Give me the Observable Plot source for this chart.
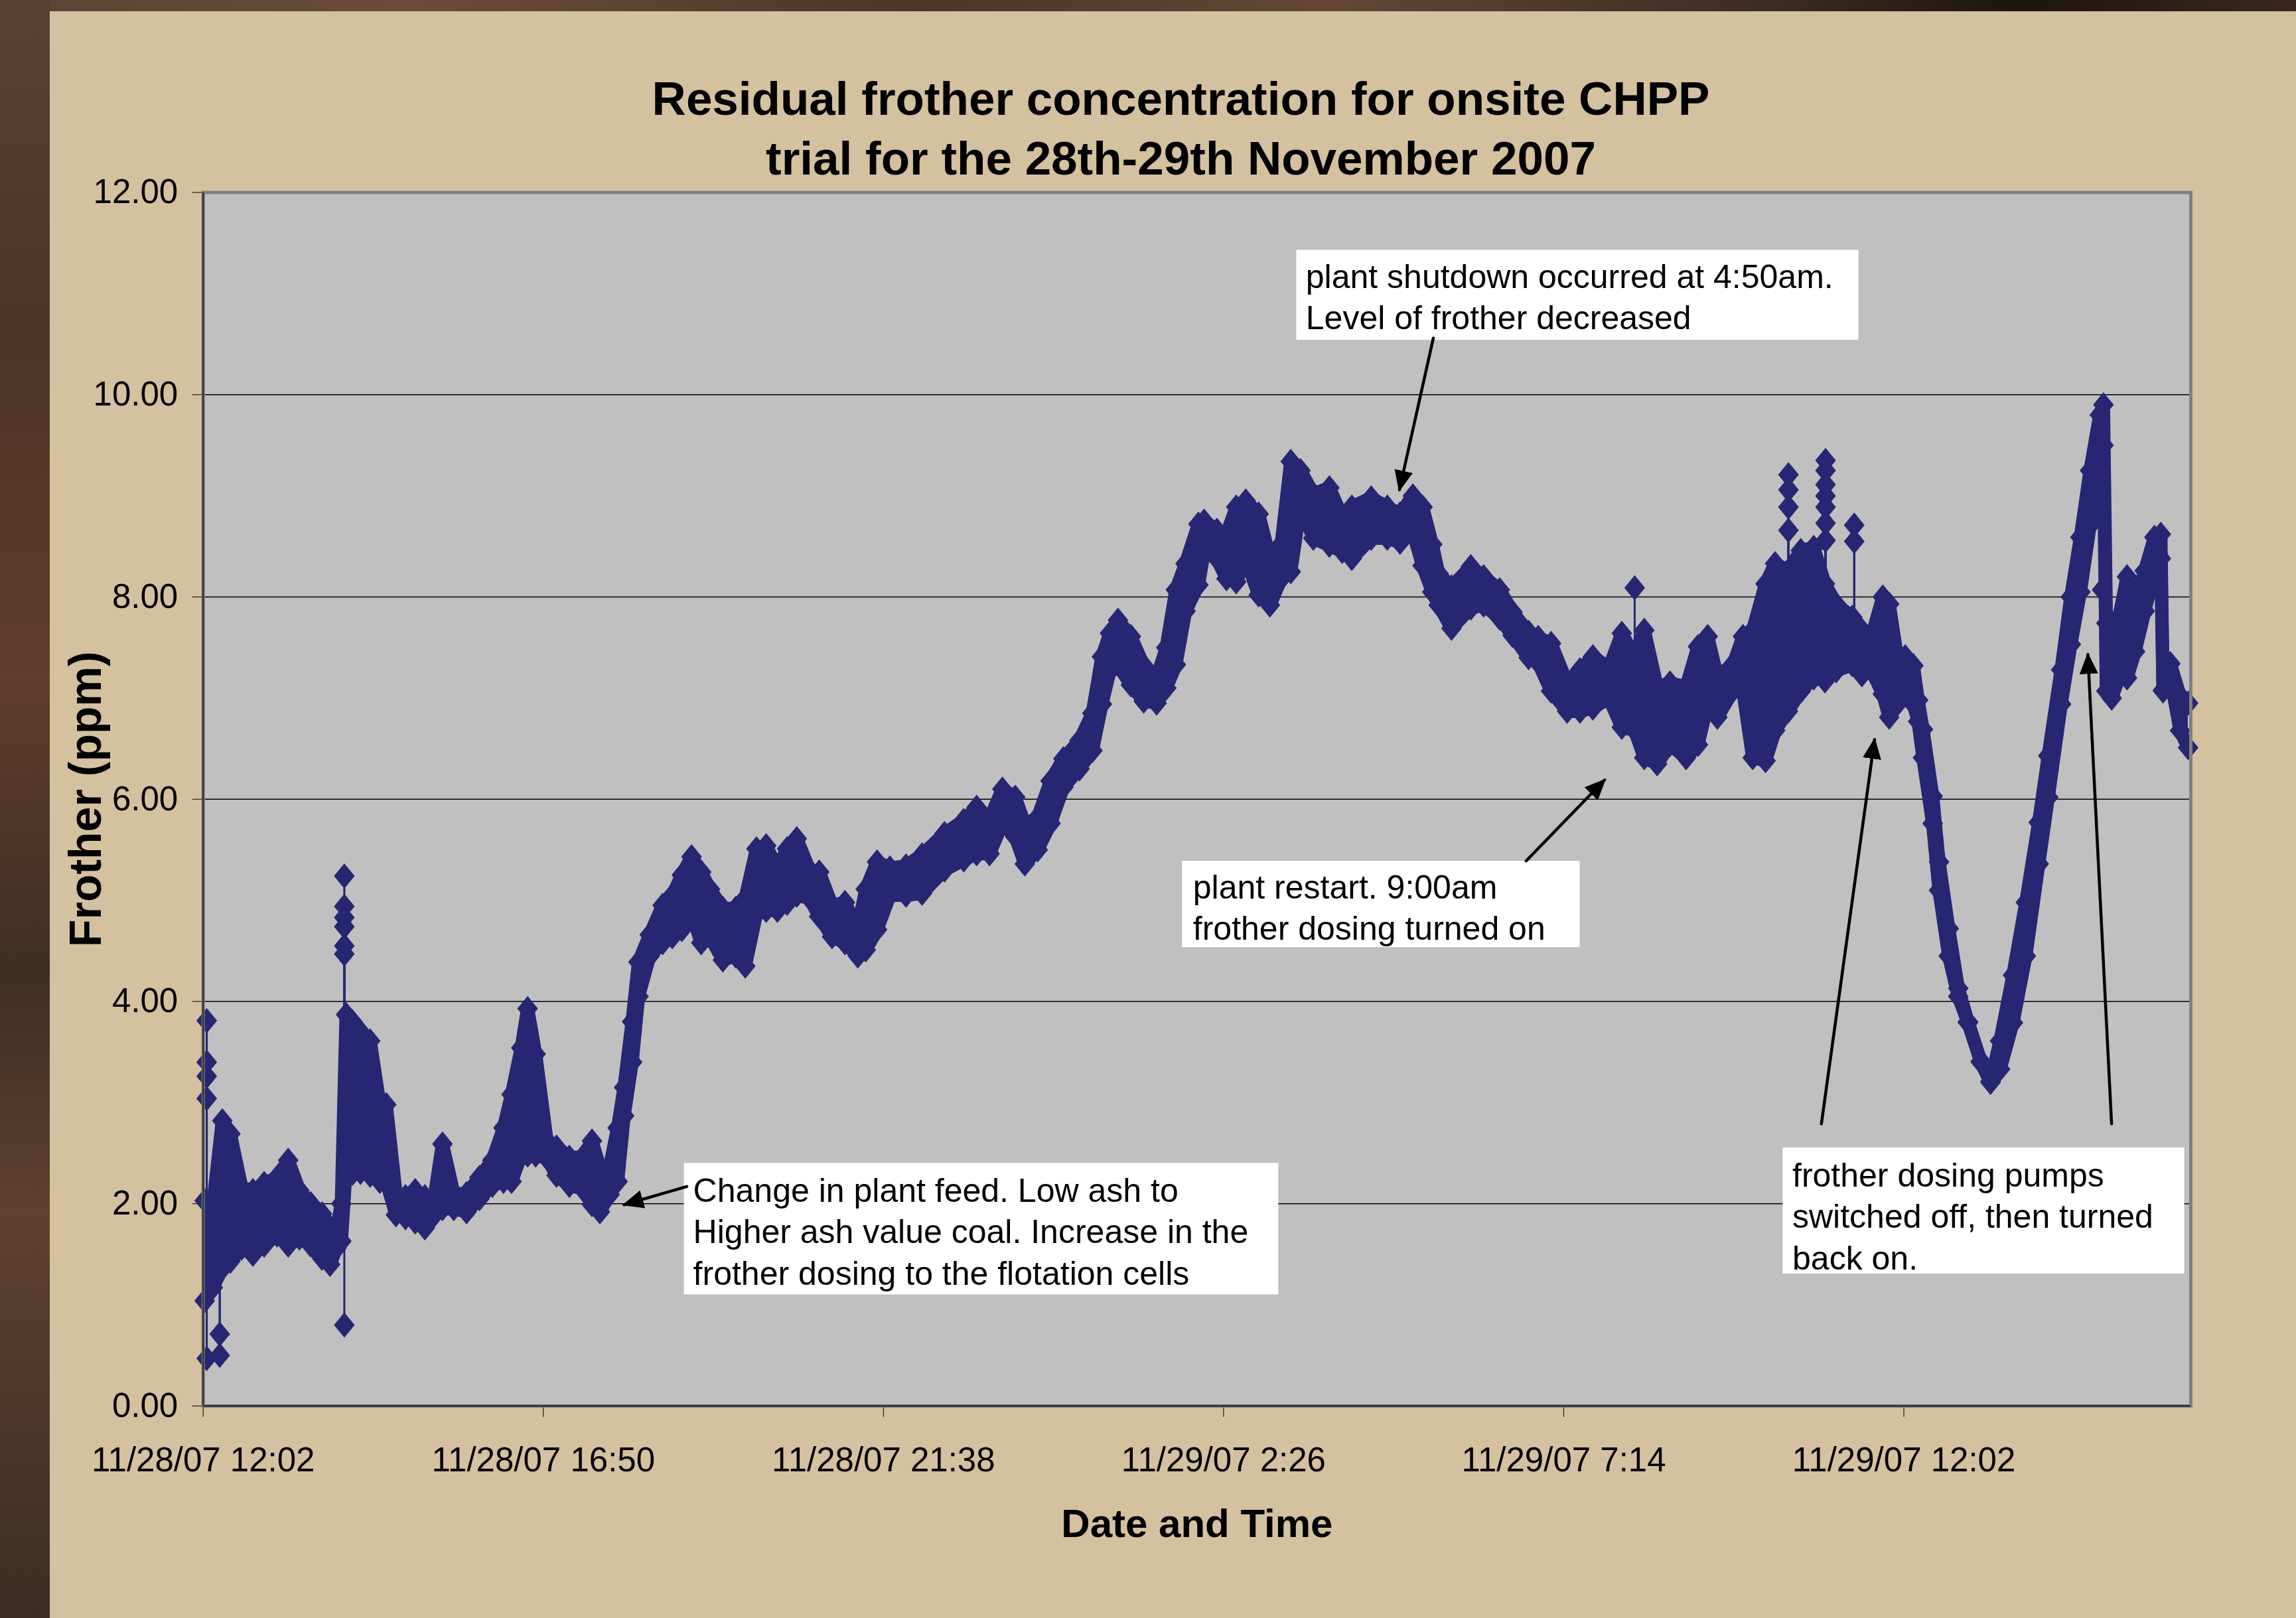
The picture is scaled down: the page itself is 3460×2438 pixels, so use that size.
<!DOCTYPE html>
<html>
<head>
<meta charset="utf-8">
<script src="https://cdn.jsdelivr.net/npm/d3@7"></script>
<script src="https://cdn.jsdelivr.net/npm/@observablehq/plot@0.6"></script>
<style>
html, body { margin: 0; padding: 0; }
body {
  width: 3460px; height: 2438px; overflow: hidden; position: relative;
  background: linear-gradient(90deg, #5b4333 0%, #6a4c3a 18%, #4e3527 40%, #634636 58%, #3a2a20 78%, #1e1410 88%, #3a281e 100%);
}
#wood-left {
  position: absolute; left: 0; top: 0; width: 75px; height: 2438px;
  background: linear-gradient(180deg, #5a4233 0%, #4d3426 20%, #5e3e2c 42%, #3f2d23 60%, #5e4130 75%, #3c2c23 100%);
}
#chart {
  position: absolute; left: 75px; top: 17px; width: 3385px; height: 2421px;
  background: #D4C1A0;
}
#title {
  position: absolute; left: 12px; top: 87px; width: 3385px; text-align: center;
  font: bold 71px/90px 'Liberation Sans', Arial, sans-serif; color: #000;
}
#plot { position: absolute; left: 0; top: 200px; }
</style>
</head>
<body>
<div id="wood-left"></div>
<div id="chart">
  <div id="title">Residual frother concentration for onsite CHPP<br>trial for the 28th-29th November 2007</div>
  <div id="plot"></div>
</div>
<script>
// ---------- data (minutes after 11/28/07 12:02, frother ppm) ----------
const startTime = Date.UTC(2007, 10, 28, 12, 2);
const endMinute = 1683;
const tickMinutes = [0, 288, 576, 864, 1152, 1440];
const tickLabels = ["11/28/07 12:02", "11/28/07 16:50", "11/28/07 21:38", "11/29/07 2:26", "11/29/07 7:14", "11/29/07 12:02"];
const yTicks = [0, 2, 4, 6, 8, 10, 12];
const gridValues = [2, 4, 6, 8, 10];

// band of the noisy readings: time, upper and lower reading at each time
const bandMinutes = [
  1.3, 8.1, 16.2, 23.0, 32.6, 42.1, 51.6, 62.5, 72.0, 81.5, 91.1, 100.6, 107.4, 112.8, 117.0, 121.0, 126.4, 133.2, 141.4, 149.6, 155.0, 163.2, 171.3, 179.5, 187.7, 195.8, 202.6, 212.2, 223.0, 233.9, 244.8, 254.3, 261.1, 269.3, 274.7, 281.5, 291.1, 299.2, 310.1, 321.0, 329.2, 335.9, 344.1, 350.9, 356.4, 363.2, 368.6, 378.1, 389.0, 397.2, 405.3, 413.5, 421.7,
  429.1, 440.0, 450.9, 459.0, 468.5, 476.7, 486.2, 494.4, 502.6, 513.4, 521.6, 532.5, 543.4, 554.3, 561.0, 570.6, 581.5, 595.1, 608.7, 627.7, 644.0, 654.9, 665.8, 676.7, 687.6, 695.7, 706.6, 717.5, 728.4, 742.0, 752.9, 761.0, 767.8, 774.6, 785.5, 796.4, 807.3, 815.5, 823.6, 831.8, 842.7,
  847.5, 858.3, 866.5, 874.7, 882.8, 893.7, 903.2, 912.8, 920.9, 929.1, 940.0, 953.6, 964.5, 972.6, 989.0, 1002.6, 1013.4, 1024.3, 1032.5, 1040.7, 1046.1, 1057.0, 1073.3, 1084.2, 1097.8, 1108.7, 1122.3, 1130.4, 1141.3, 1154.9, 1165.8, 1176.7, 1190.3, 1201.2, 1212.1, 1220.2, 1231.1, 1242.0, 1255.6,
  1265.7, 1273.9, 1282.1, 1295.7, 1303.8, 1312.0, 1322.9, 1331.0, 1341.9, 1352.8, 1363.7, 1373.2, 1382.7, 1396.4, 1404.5, 1412.7, 1422.2, 1427.6, 1434.5, 1441.2, 1448.1, 1452.1, 1456.2, 1464.4, 1469.8, 1478.0, 1486.1, 1494.3, 1505.2, 1513.4, 1521.5, 1532.4, 1543.3, 1554.2, 1562.3, 1573.2, 1581.4, 1589.5, 1597.7, 1605.9, 1609.0, 1611.5, 1616.0, 1622.2, 1629.0, 1635.8, 1644.0, 1652.2, 1657.6, 1659.5, 1665.7, 1673.9, 1680.7
];
const bandHigh = [
  2.03, 1.97, 2.82, 2.69, 2.16, 2.13, 2.20, 2.26, 2.43, 2.13, 2.00, 1.90, 1.77, 1.74, 2.00, 3.87, 3.80, 3.70, 3.61, 2.98, 2.98, 2.10, 2.07, 2.13, 2.07, 2.07, 2.59, 2.10, 2.10, 2.26, 2.43, 2.75, 3.08, 3.54, 3.93, 3.48, 2.62, 2.56, 2.46, 2.46, 2.62, 2.36, 2.36, 2.75, 3.15, 3.80, 4.39, 4.66, 4.95, 5.05, 5.25, 5.43, 5.28,
  5.11, 4.92, 4.92, 5.02, 5.51, 5.54, 5.31, 5.51, 5.61, 5.30, 5.28, 4.95, 4.98, 4.72, 5.11, 5.38, 5.32, 5.34, 5.45, 5.66, 5.79, 5.92, 5.80, 6.10, 6.02, 5.75, 5.82, 6.18, 6.40, 6.58, 6.85, 7.41, 7.64, 7.77, 7.61, 7.32, 7.20, 7.50, 8.07, 8.33, 8.72,
  8.75, 8.66, 8.62, 8.89, 8.95, 8.82, 8.39, 8.52, 9.34, 9.25, 9.02, 9.08, 8.79, 8.89, 8.98, 8.89, 8.82, 9.00, 8.89, 8.52, 8.23, 8.10, 8.30, 8.20, 8.07, 7.85, 7.65, 7.60, 7.54, 7.15, 7.28, 7.41, 7.30, 7.64, 7.41, 7.67, 7.11, 7.15, 7.11,
  7.51, 7.61, 7.21, 7.34, 7.61, 7.67, 8.13, 8.33, 8.26, 8.46, 8.49, 8.13, 7.93, 7.80, 7.67, 7.61, 8.00, 7.93, 7.40, 7.41, 7.32, 6.98, 6.69, 6.03, 5.38, 4.72, 4.13, 3.80, 3.41, 3.21, 3.61, 4.26, 4.98, 5.77, 6.43, 7.28, 8.00, 8.59, 9.25, 9.80, 9.90, 7.74, 7.61, 7.80, 8.20, 7.93, 8.26, 8.59, 8.62, 7.08, 7.34, 7.02, 6.95
];
const bandLow = [
  1.04, 1.17, 1.36, 1.43, 1.56, 1.50, 1.59, 1.69, 1.59, 1.66, 1.59, 1.46, 1.40, 1.56, 1.63, 2.35, 2.30, 2.31, 2.28, 2.22, 2.22, 1.89, 1.86, 1.82, 1.76, 1.89, 1.95, 1.95, 1.92, 2.05, 2.18, 2.22, 2.22, 2.48, 2.48, 2.48, 2.45, 2.28, 2.18, 2.15, 1.99, 1.92, 2.09, 2.22, 2.87, 3.40, 4.05, 4.45, 4.58, 4.64, 4.71, 4.87, 4.58,
  4.64, 4.41, 4.45, 4.35, 4.87, 4.90, 4.90, 4.97, 5.05, 5.02, 4.84, 4.64, 4.58, 4.45, 4.51, 4.71, 5.05, 5.05, 5.07, 5.30, 5.40, 5.46, 5.46, 5.76, 5.63, 5.36, 5.50, 5.76, 6.12, 6.30, 6.48, 6.94, 7.27, 7.33, 7.13, 6.97, 6.95, 7.10, 7.33, 7.86, 8.12,
  8.45, 8.38, 8.18, 8.15, 8.38, 8.02, 7.92, 8.18, 8.25, 8.90, 8.58, 8.51, 8.45, 8.38, 8.58, 8.58, 8.54, 8.64, 8.31, 8.05, 7.92, 7.69, 7.89, 7.92, 7.79, 7.62, 7.40, 7.35, 7.07, 6.87, 6.87, 6.90, 7.00, 6.71, 6.68, 6.41, 6.35, 6.54, 6.41,
  6.54, 6.94, 6.81, 7.08, 7.07, 6.41, 6.38, 6.68, 6.87, 7.07, 7.20, 7.17, 7.27, 7.33, 7.23, 7.27, 7.04, 6.81, 6.94, 7.04, 6.94, 6.77, 6.41, 5.76, 5.10, 4.45, 4.05, 3.79, 3.40, 3.20, 3.33, 3.79, 4.45, 5.36, 6.02, 6.94, 7.53, 8.05, 8.71, 9.23, 9.50, 7.07, 7.00, 7.20, 7.20, 7.46, 7.86, 8.25, 8.38, 7.07, 7.20, 6.68, 6.51
];

// isolated outlier readings, with the band reading they hang from
const spikeMinutes = [3, 3, 3, 3, 3, 14, 14, 119.5, 119.5, 119.5, 119.5, 119.5, 119.5, 119.5, 1212.1, 1342.3, 1342.3, 1342.3, 1342.3, 1373.7, 1373.7, 1373.7, 1373.7, 1373.7, 1373.7, 1373.7, 1398, 1398, 1607.9];
const spikeValues  = [3.81, 3.40, 3.26, 3.04, 0.47, 0.50, 0.71, 5.24, 4.94, 4.83, 4.74, 4.55, 4.47, 0.80, 8.09, 9.21, 9.06, 8.89, 8.66, 9.35, 9.25, 9.11, 9.00, 8.89, 8.73, 8.56, 8.71, 8.55, 8.07];
const spikeBases   = [2.0, 2.0, 2.0, 2.0, 1.04, 1.2, 1.2, 3.8, 3.8, 3.8, 3.8, 3.8, 3.8, 1.7, 7.4, 8.26, 8.26, 8.26, 8.26, 8.13, 8.13, 8.13, 8.13, 8.13, 8.13, 8.13, 7.8, 7.8, 9.5];

// annotations (placed in data coordinates: minutes, ppm)
const noteTexts = [
  "plant shutdown occurred at 4:50am.\nLevel of frother decreased",
  "plant restart. 9:00am\nfrother dosing turned on",
  "Change in plant feed. Low ash to\nHigher ash value coal. Increase in the\nfrother dosing to the flotation cells",
  "frother dosing pumps\nswitched off, then turned\nback on."
];
const notePlacement = [
  {x1: 925.8, x2: 1401.8, y1: 11.43, y2: 10.54, tx: 933.6, ty: 11.348},
  {x1: 829.1, x2: 1165.8, y1: 5.387, y2: 4.534, tx: 838.1, ty: 5.311},
  {x1: 407.3, x2: 910.6, y1: 2.40, y2: 1.10, tx: 414.9, ty: 2.312},
  {x1: 1337.7, x2: 1677.7, y1: 2.553, y2: 1.306, tx: 1345.6, ty: 2.463}
];
const arrowPlacement = [
  {m1: 1041.6, v1: 10.56, m2: 1012.9, v2: 9.06},
  {m1: 1120.2, v1: 5.39, m2: 1186.6, v2: 6.19},
  {m1: 409.5, v1: 2.17, m2: 356.4, v2: 1.99},
  {m1: 1370.2, v1: 2.79, m2: 1415.2, v2: 6.59},
  {m1: 1615.9, v1: 2.79, m2: 1595.8, v2: 7.43}
];

// ---------- build ----------
const toTime = (m) => new Date(startTime + m * 60000);
const band = bandMinutes.map((m, i) => ({t: toTime(m), hi: bandHigh[i], lo: bandLow[i]}));
const spikes = spikeMinutes.map((m, i) => ({t: toTime(m), v: spikeValues[i], base: spikeBases[i]}));
const notes = noteTexts.map((text, i) => ({text, ...notePlacement[i]}));
const tickDates = tickMinutes.map(toTime);

const navy = "#262673";
const font = "'Liberation Sans', Arial, Helvetica, sans-serif";

const excelDiamond = {
  draw(context, size) {
    const r = Math.sqrt(size / Math.PI);
    const w = r * 0.82;
    context.moveTo(0, -r);
    context.lineTo(w, 0);
    context.lineTo(0, r);
    context.lineTo(-w, 0);
    context.closePath();
  }
};

function triangleHead(color) {
  const ns = "http://www.w3.org/2000/svg";
  const m = document.createElementNS(ns, "marker");
  m.setAttribute("viewBox", "0 -14 32 28");
  m.setAttribute("markerWidth", 32);
  m.setAttribute("markerHeight", 28);
  m.setAttribute("refX", 29);
  m.setAttribute("refY", 0);
  m.setAttribute("markerUnits", "userSpaceOnUse");
  m.setAttribute("orient", "auto");
  const p = document.createElementNS(ns, "path");
  p.setAttribute("d", "M0,-14L32,0L0,14Z");
  p.setAttribute("fill", color);
  p.setAttribute("stroke", "none");
  m.appendChild(p);
  return m;
}

const chart = Plot.plot({
  width: 3385,
  height: 2221,
  marginLeft: 230.7,
  marginRight: 159,
  marginTop: 72.5,
  marginBottom: 320,
  style: {background: "transparent", fontFamily: font, fontSize: "51px", color: "#000", overflow: "visible"},
  x: {
    type: "utc",
    domain: [toTime(0), toTime(endMinute)],
    ticks: tickDates,
    tickFormat: (d) => tickLabels[tickDates.findIndex((t) => +t === +d)],
    tickSize: 17,
    tickPadding: 45,
    label: null
  },
  y: {
    domain: [0, 12],
    ticks: yTicks,
    tickFormat: d3.format(".2f"),
    tickSize: 16,
    tickPadding: 22,
    label: null
  },
  marks: [
    Plot.frame({fill: "#C0C0C0", stroke: "none"}),
    Plot.ruleY(gridValues, {stroke: "#000", strokeWidth: 1.6}),
    Plot.areaY(band, {x: "t", y1: "lo", y2: "hi", fill: navy}),
    Plot.line(band, {x: "t", y: "hi", stroke: navy, strokeWidth: 20, strokeLinejoin: "miter"}),
    Plot.line(band, {x: "t", y: "lo", stroke: navy, strokeWidth: 20, strokeLinejoin: "miter"}),
    Plot.ruleX(spikes, {x: "t", y1: "base", y2: "v", stroke: navy, strokeWidth: 3}),
    Plot.dot(band, {x: "t", y: "hi", symbol: excelDiamond, r: 19, fill: navy, stroke: "none"}),
    Plot.dot(band, {x: "t", y: "lo", symbol: excelDiamond, r: 19, fill: navy, stroke: "none"}),
    Plot.dot(spikes, {x: "t", y: "v", symbol: excelDiamond, r: 19, fill: navy, stroke: "none"}),
    Plot.rect(notes, {x1: (d) => toTime(d.x1), x2: (d) => toTime(d.x2), y1: "y1", y2: "y2", fill: "white"}),
    Plot.text(notes, {x: (d) => toTime(d.tx), y: "ty", text: "text", textAnchor: "start", lineAnchor: "top", lineHeight: 1.25, fontSize: 50, fill: "#000"}),
    Plot.link(arrowPlacement, {x1: (d) => toTime(d.m1), y1: "v1", x2: (d) => toTime(d.m2), y2: "v2", stroke: "#000", strokeWidth: 4.5, strokeLinecap: "round", markerEnd: triangleHead}),
    Plot.frame({stroke: "#808080", strokeWidth: 5}),
    Plot.ruleX([toTime(0)], {stroke: "#3a3a3a", strokeWidth: 3}),
    Plot.ruleY([0], {stroke: "#3a3a3a", strokeWidth: 3}),
    Plot.text(["Date and Time"], {text: (d) => d, frameAnchor: "bottom", dy: 197, textAnchor: "middle", lineAnchor: "bottom", fontSize: 60, fontWeight: "bold", fill: "#000"}),
    Plot.text(["Frother (ppm)"], {text: (d) => d, frameAnchor: "left", rotate: -90, dx: -154.7, textAnchor: "middle", lineAnchor: "bottom", fontSize: 68, fontWeight: "bold", fill: "#000"})
  ]
});
document.getElementById("plot").appendChild(chart);
</script>
</body>
</html>
